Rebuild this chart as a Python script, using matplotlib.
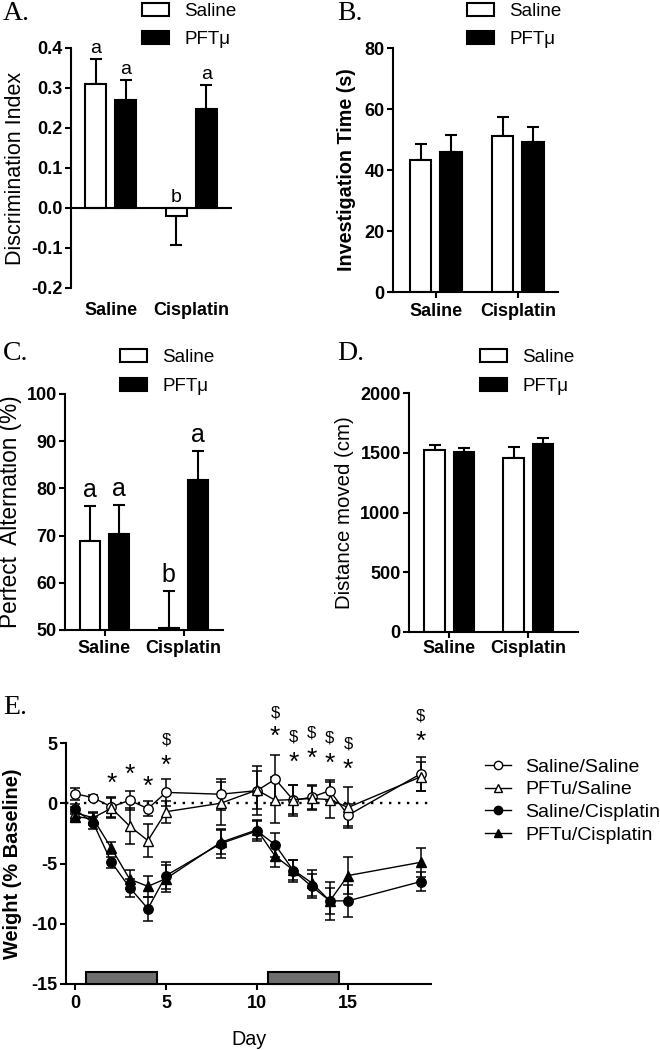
import numpy as np
import matplotlib.pyplot as plt
from matplotlib.patches import Patch
from matplotlib.lines import Line2D

plt.rcParams['font.family'] = ['Liberation Sans', 'DejaVu Sans']
plt.rcParams['axes.unicode_minus'] = False
plt.rcParams['axes.linewidth'] = 1.5
plt.rcParams['xtick.major.width'] = 1.5
plt.rcParams['ytick.major.width'] = 1.5
plt.rcParams['xtick.major.size'] = 4
plt.rcParams['ytick.major.size'] = 4
plt.rcParams['ytick.major.pad'] = 2

groups = ["Saline", "Cisplatin"]
treatments = ["Saline", "PFTμ"]

# A. discrimination index
disc_sal = [0.31, -0.02]
disc_sal_err = [0.062, 0.073]
disc_pft = [0.27, 0.248]
disc_pft_err = [0.05, 0.06]
disc_letters_sal = ["a", "b"]
disc_letters_pft = ["a", "a"]

# B. investigation time (s)
inv_sal = [43.2, 51.0]
inv_sal_err = [5.4, 6.4]
inv_pft = [45.9, 49.2]
inv_pft_err = [5.6, 4.9]

# C. perfect alternation (%)
alt_sal = [68.9, 50.4]
alt_sal_err = [7.4, 7.9]
alt_pft = [70.3, 81.8]
alt_pft_err = [6.2, 6.2]
alt_letters_sal = ["a", "b"]
alt_letters_pft = ["a", "a"]

# D. distance moved (cm)
dist_sal = [1519, 1455]
dist_sal_err = [42, 92]
dist_pft = [1510, 1575]
dist_pft_err = [28, 45]

# E. body weight (% baseline)
days = [0, 1, 2, 3, 4, 5, 8, 10, 11, 12, 13, 14, 15, 19]
sal_sal = [0.8, 0.45, -0.3, 0.25, -0.45, 0.9, 0.75, 1.05, 2.0, 0.25, 0.5, 1.05, -1.0, 2.45]
sal_sal_err = [0.5, 0.2, 0.8, 0.8, 0.6, 1.1, 1.3, 2.0, 2.0, 1.3, 1.0, 0.9, 0.9, 1.4]
pft_sal = [-0.8, -1.2, -0.4, -1.9, -3.1, -0.7, 0.0, 1.1, 0.25, 0.3, 0.4, 0.3, -0.35, 2.2]
pft_sal_err = [0.5, 0.5, 0.8, 1.5, 1.4, 0.9, 1.8, 1.6, 1.9, 1.2, 1.0, 1.5, 1.7, 1.2]
sal_cis = [-0.5, -1.65, -4.9, -7.0, -8.75, -6.0, -3.35, -2.3, -3.45, -5.6, -6.9, -8.1, -8.1, -6.5]
sal_cis_err = [0.4, 0.5, 0.45, 0.75, 1.0, 1.1, 1.2, 0.85, 1.0, 0.9, 1.0, 1.6, 1.35, 0.8]
pft_cis = [-1.1, -1.3, -3.75, -6.3, -6.9, -6.25, -3.25, -2.2, -4.4, -5.55, -6.6, -8.1, -6.0, -4.9]
pft_cis_err = [0.4, 0.5, 0.5, 0.8, 0.9, 1.1, 1.0, 0.8, 0.9, 0.8, 1.1, 1.1, 1.5, 1.2]

star_days = [2, 3, 4, 5, 11, 12, 13, 14, 15, 19]
star_y = [2.35, 3.1, 2.05, 3.8, 6.2, 4.1, 4.4, 4.0, 3.5, 5.8]
dollar_days = [5, 11, 12, 13, 14, 15, 19]
dollar_y = [5.4, 7.6, 5.6, 5.9, 5.5, 5.0, 7.35]

tx_start = [0.6, 10.6]
tx_end = [4.5, 14.5]


def bar_panel(ax, sal, sal_err, pft, pft_err, letters_sal=None, letters_pft=None,
              letter_size=14, letter_pad=1.5):
    x = np.arange(len(groups))
    w, off = 0.26, 0.185
    sets = [(sal, sal_err, x - off, 'white', letters_sal),
            (pft, pft_err, x + off, 'black', letters_pft)]
    for vals, errs, xs, fc, letters in sets:
        vals = np.array(vals, dtype=float)
        errs = np.array(errs, dtype=float)
        lower = np.where(vals < 0, errs, 0)
        upper = np.where(vals < 0, 0, errs)
        ax.bar(xs, vals, w, color=fc, edgecolor='black', linewidth=1.5, zorder=2)
        ax.errorbar(xs, vals, yerr=[lower, upper], fmt='none', ecolor='black',
                    elinewidth=1.5, capsize=4.5, capthick=1.5, zorder=1)
        if letters:
            tops = np.maximum(vals + upper, 0)
            for xi, ti, lt in zip(xs, tops, letters):
                ax.annotate(lt, (xi, ti), xytext=(0, letter_pad), textcoords='offset points',
                            ha='center', va='bottom', fontsize=letter_size)
    ax.spines['top'].set_visible(False)
    ax.spines['right'].set_visible(False)
    for lbl in ax.get_yticklabels():
        lbl.set_fontweight('bold')
        lbl.set_fontsize(13)


def bar_legend(ax, fig, x, y):
    handles = [Patch(facecolor='white', edgecolor='black', linewidth=1.5),
               Patch(facecolor='black', edgecolor='black', linewidth=1.5)]
    ax.legend(handles, treatments, loc='center left', bbox_to_anchor=(x, y),
              bbox_transform=fig.transFigure, frameon=False, fontsize=13.5,
              handlelength=1.45, handleheight=0.7, handletextpad=0.8,
              labelspacing=0.62, borderpad=0, borderaxespad=0)


fig = plt.figure(figsize=(6.6, 10.5), dpi=100)
W, H = 660, 1050


def add_axes(left, right, top, bottom):
    return fig.add_axes([left / W, 1 - bottom / H, (right - left) / W, (bottom - top) / H])


# ---- A ----
axA = add_axes(71, 231, 48, 288)
axA.set_ylim(-0.2, 0.4)
axA.set_yticks([-0.2, -0.1, 0.0, 0.1, 0.2, 0.3, 0.4])
axA.set_yticklabels(["-0.2", "-0.1", "0.0", "0.1", "0.2", "0.3", "0.4"])
bar_panel(axA, disc_sal, disc_sal_err, disc_pft, disc_pft_err,
          disc_letters_sal, disc_letters_pft, letter_size=14, letter_pad=1.5)
axA.set_xlim(-0.49, 1.49)
axA.spines['bottom'].set_position(('data', 0))
axA.set_xticks([])
for i, g in enumerate(groups):
    axA.text(i, -0.092, g, transform=axA.get_xaxis_transform(), ha='center', va='center',
             fontsize=13, fontweight='bold')
axA.set_ylabel("Discrimination Index", fontsize=15.5, va='center')
axA.yaxis.set_label_coords(-0.35, 0.5)
bar_legend(axA, fig, 142 / W, 1 - 25.5 / H)

# ---- B ----
axB = add_axes(393, 558, 48, 292)
axB.set_ylim(0, 80)
axB.set_yticks([0, 20, 40, 60, 80])
bar_panel(axB, inv_sal, inv_sal_err, inv_pft, inv_pft_err)
axB.set_xlim(-0.52, 1.49)
axB.set_xticks(range(len(groups)))
axB.set_xticklabels(groups, fontsize=13, fontweight='bold')
axB.tick_params(axis='x', pad=4)
axB.set_ylabel("Investigation Time (s)", fontsize=14.2, fontweight='bold', va='center')
axB.yaxis.set_label_coords(-0.279, 0.5)
bar_legend(axB, fig, 467 / W, 1 - 25.5 / H)

# ---- C ----
axC = add_axes(65, 223, 394, 630)
axC.set_ylim(50, 100)
axC.set_yticks([50, 60, 70, 80, 90, 100])
bar_panel(axC, alt_sal, alt_sal_err, alt_pft, alt_pft_err,
          alt_letters_sal, alt_letters_pft, letter_size=18, letter_pad=2.5)
axC.set_xlim(-0.5, 1.5)
axC.set_xticks(range(len(groups)))
axC.set_xticklabels(groups, fontsize=13, fontweight='bold')
axC.tick_params(axis='x', pad=3)
axC.set_ylabel("Perfect  Alternation (%)", fontsize=16.3, va='center')
axC.yaxis.set_label_coords(-0.345, 0.5)
bar_legend(axC, fig, 120 / W, 1 - 372 / H)

# ---- D ----
axD = add_axes(409, 578, 393, 632)
axD.set_ylim(0, 2000)
axD.set_yticks([0, 500, 1000, 1500, 2000])
bar_panel(axD, dist_sal, dist_sal_err, dist_pft, dist_pft_err)
axD.set_xlim(-0.51, 1.63)
axD.set_xticks(range(len(groups)))
axD.set_xticklabels(groups, fontsize=13, fontweight='bold')
axD.tick_params(axis='x', pad=2)
axD.set_ylabel("Distance moved (cm)", fontsize=14.7, va='center')
axD.yaxis.set_label_coords(-0.379, 0.5)
bar_legend(axD, fig, 480 / W, 1 - 372 / H)

# ---- E ----
axE = add_axes(66, 431, 743, 984)
axE.set_xlim(-0.5, 19.56)
axE.set_ylim(-15, 5)
axE.spines['top'].set_visible(False)
axE.spines['right'].set_visible(False)
axE.axhline(0, color='black', lw=1.7, ls=(0, (1, 2.8)), zorder=1)

series = [
    (sal_sal, sal_sal_err, 'o', 'white', "Saline/Saline"),
    (pft_sal, pft_sal_err, '^', 'white', "PFTu/Saline"),
    (sal_cis, sal_cis_err, 'o', 'black', "Saline/Cisplatin"),
    (pft_cis, pft_cis_err, '^', 'black', "PFTu/Cisplatin"),
]
handles = []
for vals, errs, mk, fc, name in series:
    axE.errorbar(days, vals, yerr=errs, fmt='none', ecolor='black', elinewidth=1.1,
                 capsize=3.5, capthick=1.1, zorder=2)
    axE.plot(days, vals, color='black', lw=1.0, marker=mk, ms=6.8, mfc=fc, mec='black',
             mew=1.0, zorder=3)
    handles.append(Line2D([], [], color='black', lw=1.0, marker=mk, ms=6, mfc=fc,
                          mec='black', mew=1.0))

for s, e in zip(tx_start, tx_end):
    axE.bar(s, 1.0, width=e - s, bottom=-15, align='edge', color='#6e6e6e',
            edgecolor='black', linewidth=1.5, zorder=4, clip_on=False)

star_fs = 19
for d, yv in zip(star_days, star_y):
    axE.annotate("*", (d, yv), xytext=(0, -0.59 * star_fs), textcoords='offset points',
                 ha='center', va='baseline', fontsize=star_fs, annotation_clip=False)
for d, yv in zip(dollar_days, dollar_y):
    axE.annotate("$", (d, yv), xytext=(0, -0.35 * 12), textcoords='offset points',
                 ha='center', va='baseline', fontsize=12, annotation_clip=False)

axE.set_xticks([0, 5, 10, 15])
axE.set_yticks([-15, -10, -5, 0, 5])
axE.tick_params(axis='x', pad=4)
for lbl in axE.get_xticklabels() + axE.get_yticklabels():
    lbl.set_fontweight('bold')
    lbl.set_fontsize(13)
axE.set_xlabel("Day", fontsize=14.2, labelpad=13)
axE.set_ylabel("Weight (% Baseline)", fontsize=14.4, fontweight='bold', va='center')
axE.yaxis.set_label_coords(-0.147, 0.5)
axE.legend(handles, [s[4] for s in series], loc='center left',
           bbox_to_anchor=(485 / W, 1 - 801 / H), bbox_transform=fig.transFigure,
           frameon=False, fontsize=14, handlelength=1.34, handletextpad=0.72,
           labelspacing=0.27, borderpad=0, borderaxespad=0)

# panel letters
for lt, px, py in [("A.", 3, 14), ("B.", 337, 14), ("C.", 3, 353), ("D.", 337, 353), ("E.", 3, 708)]:
    fig.text(px / W, 1 - py / H, lt, family=['Liberation Serif', 'DejaVu Serif'],
             fontsize=20, ha='left', va='center')

fig.savefig("out.png", dpi=100)
